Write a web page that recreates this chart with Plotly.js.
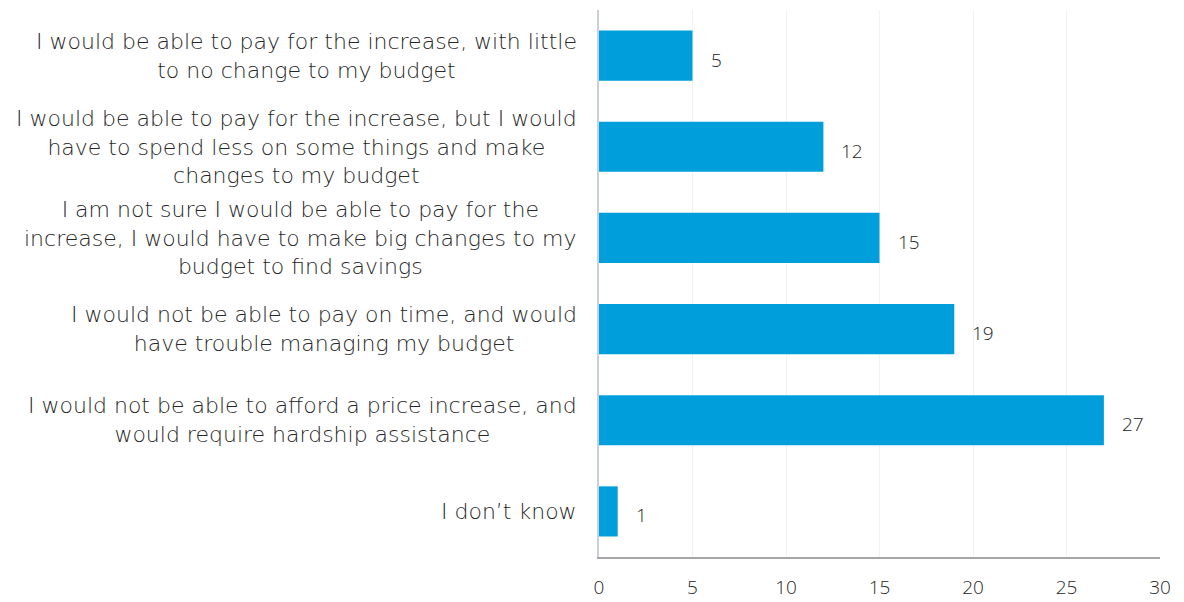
<!DOCTYPE html>
<html>
<head>
<meta charset="utf-8">
<script src="https://cdn.plot.ly/plotly-3.0.1.min.js"></script>
<style>html,body{margin:0;padding:0;background:#fff;}#chart{width:1184px;height:602px;}</style>
</head>
<body>
<div id="chart"></div>
<script>
var categories = [
  "I would be able to pay for the increase, with little<br>to no change to my budget",
  "I would be able to pay for the increase, but I would<br>have to spend less on some things and make<br>changes to my budget",
  "I am not sure I would be able to pay for the<br>increase, I would have to make big changes to my<br>budget to find savings",
  "I would not be able to pay on time, and would<br>have trouble managing my budget",
  "I would not be able to afford a price increase, and<br>would require hardship assistance",
  "I don\u2019t know"
];
var values = [5, 12, 15, 19, 27, 1];
var tickVals = [0, 5, 10, 15, 20, 25, 30];

var textColor = "#262626";
var labelFont = "'DejaVu Sans', 'Open Sans', sans-serif";
var fontFam = "'Open Sans', Lato, sans-serif";

var ids = categories.map(function(c, i){ return "c" + i; });

var annotations = [];
categories.forEach(function(c, i){
  annotations.push({
    xref: "paper", yref: "y", x: 0, y: ids[i], xanchor: "right", yanchor: "middle",
    xshift: -20, text: c, showarrow: false, align: "center",
    font: {family: labelFont, size: 22, color: textColor, weight: 200}
  });
  annotations.push({
    xref: "x", yref: "y", x: values[i], y: ids[i], xanchor: "left", yanchor: "middle",
    xshift: 16, yshift: -4, text: String(values[i]), showarrow: false,
    font: {family: fontFam, size: 19, color: textColor, weight: 300}
  });
});

var data = [{
  type: "bar", orientation: "h",
  x: values, y: ids,
  width: 0.55,
  marker: {color: "#009FDB", line: {width: 0}},
  hoverinfo: "x"
}];

var layout = {
  width: 1184, height: 602,
  margin: {l: 599, r: 24, t: 10, b: 45},
  paper_bgcolor: "#fff", plot_bgcolor: "#fff",
  showlegend: false,
  bargap: 0.45,
  xaxis: {
    range: [0, 30], tickvals: tickVals, ticktext: tickVals.map(String),
    showgrid: true, gridcolor: "#f2f2f2", gridwidth: 1,
    zeroline: false, showline: true, linecolor: "#a6a6a6", linewidth: 2,
    ticks: "", ticklen: 0, ticklabelstandoff: 12,
    tickfont: {family: fontFam, size: 19, color: textColor, weight: 300},
    fixedrange: true
  },
  yaxis: {
    type: "category",
    categoryorder: "array", categoryarray: ids,
    showticklabels: false, showgrid: false, zeroline: false,
    showline: true, linecolor: "#c9d0da", linewidth: 2, ticks: "",
    range: [5.5, -0.5], autorange: false,
    fixedrange: true
  },
  annotations: annotations
};

Plotly.newPlot("chart", data, layout, {displayModeBar: false, staticPlot: true});
</script>
</body>
</html>
